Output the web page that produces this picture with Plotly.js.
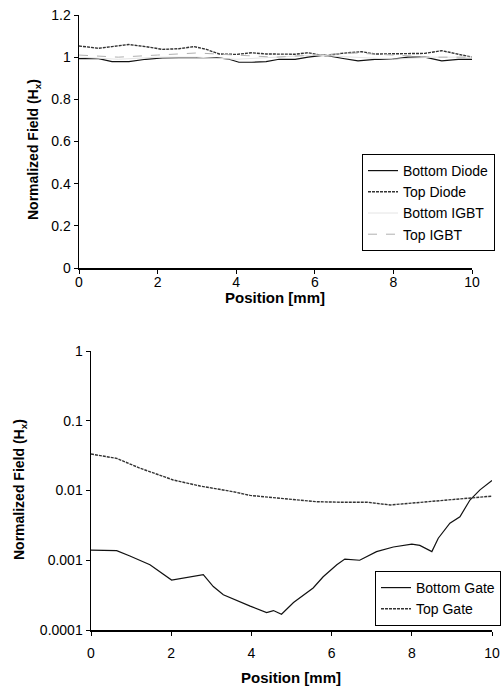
<!DOCTYPE html>
<html>
<head>
<meta charset="utf-8">
<script src="https://cdn.plot.ly/plotly-3.0.1.min.js"></script>
<style>html,body{margin:0;padding:0;background:#fff;}#chart{width:501px;height:688px;}</style>
</head>
<body>
<div id="chart"></div>
<script>
// ---- Top panel data (linear scale) ----
const posDiodeBottom = [0, 0.5, 0.84, 1.27, 1.7, 2.12, 2.54, 2.7, 3.2, 3.5, 3.82, 4.07, 4.4, 4.76, 5.09, 5.5, 5.83, 6.25, 6.68, 7.1, 7.53, 7.95, 8.37, 8.8, 9.23, 9.65, 10];
const bottomDiode   = [0.993, 0.993, 0.979, 0.979, 0.99, 0.996, 0.998, 0.998, 0.998, 0.998, 0.99, 0.976, 0.976, 0.979, 0.99, 0.99, 1.0, 1.01, 0.995, 0.982, 0.99, 0.99, 1.0, 1.0, 0.982, 0.99, 0.99];
const posDiodeTop   = [0, 0.25, 0.5, 0.84, 1.27, 1.7, 2.12, 2.54, 2.93, 3.24, 3.57, 4.0, 4.4, 4.76, 5.09, 5.5, 5.83, 6.25, 6.68, 7.19, 7.53, 7.95, 8.37, 8.8, 9.23, 9.57, 10];
const topDiode      = [1.053, 1.047, 1.042, 1.05, 1.06, 1.05, 1.037, 1.04, 1.05, 1.037, 1.015, 1.013, 1.021, 1.015, 1.015, 1.014, 1.021, 1.006, 1.018, 1.026, 1.015, 1.015, 1.015, 1.018, 1.031, 1.018, 1.0];
const posIGBT       = [0, 1, 2, 3, 4, 5, 6, 7, 8, 9, 10];
const bottomIGBT    = [1.0, 0.99, 1.0, 1.0, 0.99, 1.0, 1.01, 1.0, 0.99, 1.0, 1.0];
const topIGBT       = [1.01, 1.0, 1.01, 1.02, 1.01, 1.0, 1.01, 1.02, 1.01, 1.0, 1.0];

// ---- Bottom panel data (log scale) ----
const posGateBottom = [0, 0.64, 0.97, 1.47, 2.01, 2.38, 2.8, 3.05, 3.3, 3.97, 4.38, 4.55, 4.75, 5.05, 5.54, 5.79, 6.13, 6.33, 6.7, 7.12, 7.54, 8.0, 8.2, 8.5, 8.66, 8.95, 9.2, 9.45, 9.7, 10];
const bottomGate    = [0.0014, 0.00137, 0.00115, 0.00086, 0.00052, 0.00057, 0.00062, 0.00042, 0.00032, 0.00022, 0.000178, 0.00019, 0.000168, 0.000248, 0.0004, 0.00058, 0.00086, 0.00104, 0.001, 0.00133, 0.00155, 0.0017, 0.00163, 0.00133, 0.00207, 0.0034, 0.0042, 0.0073, 0.0102, 0.0139];
const posGateTop    = [0, 0.64, 1.22, 2.05, 2.72, 3.55, 3.97, 4.8, 5.63, 6.21, 6.88, 7.46, 8.12, 8.53, 9.37, 10];
const topGate       = [0.0333, 0.0289, 0.0209, 0.01415, 0.0116, 0.0096, 0.0085, 0.0077, 0.0069, 0.0068, 0.0068, 0.0062, 0.0067, 0.0071, 0.0077, 0.0083];

// ---- Tick labels ----
const topYTicks = [0, 0.2, 0.4, 0.6, 0.8, 1, 1.2];
const topYText  = ["0", "0.2", "0.4", "0.6", "0.8", "1", "1.2"];
const logTicks  = [0.0001, 0.001, 0.01, 0.1, 1];
const logText   = ["0.0001", "0.001", "0.01", "0.1", "1"];
const xTicks    = [0, 2, 4, 6, 8, 10];

const FONT = "Liberation Sans Narrow, Arial Narrow, Liberation Sans, Arial, sans-serif";
const TFONT = "Liberation Sans, Arial, sans-serif";

const traces = [
  {x: posDiodeBottom, y: bottomDiode, name: "Bottom Diode", mode: "lines", line: {color: "#111", width: 1.2}, xaxis: "x", yaxis: "y", legend: "legend"},
  {x: posDiodeTop, y: topDiode, name: "Top Diode", mode: "lines", line: {color: "#333", width: 1.4, dash: "3px,1px"}, xaxis: "x", yaxis: "y", legend: "legend"},
  {x: posIGBT, y: bottomIGBT, name: "Bottom IGBT", mode: "lines", line: {color: "#e4e4e4", width: 1}, xaxis: "x", yaxis: "y", legend: "legend"},
  {x: posIGBT, y: topIGBT, name: "Top IGBT", mode: "lines", line: {color: "#b0b0b0", width: 1, dash: "dash"}, xaxis: "x", yaxis: "y", legend: "legend"},
  {x: posGateBottom, y: bottomGate, name: "Bottom Gate", mode: "lines", line: {color: "#111", width: 1.2}, xaxis: "x2", yaxis: "y2", legend: "legend2"},
  {x: posGateTop, y: topGate, name: "Top Gate", mode: "lines", line: {color: "#333", width: 1.4, dash: "3px,1px"}, xaxis: "x2", yaxis: "y2", legend: "legend2"}
];

const axisCommon = {
  showgrid: false, zeroline: false, showline: true, linecolor: "#000", linewidth: 1.5,
  ticks: "outside", ticklen: 4, tickcolor: "#000", tickwidth: 1,
  tickfont: {family: FONT, size: 14, color: "#000"}, fixedrange: true
};

const legendCommon = {
  bgcolor: "#fff", bordercolor: "#000", borderwidth: 1,
  font: {family: FONT, size: 14, color: "#000"},
  xanchor: "left", yanchor: "top", itemwidth: 30, tracegroupgap: 0
};

const layout = {
  width: 501, height: 688,
  margin: {l: 0, r: 0, t: 0, b: 0, autoexpand: false},
  paper_bgcolor: "#fff", plot_bgcolor: "#fff",
  font: {family: FONT, color: "#000"},
  xaxis: Object.assign({}, axisCommon, {domain: [79/501, 472/501], range: [0, 10], tickvals: xTicks, anchor: "y", ticklabelstandoff: -3}),
  yaxis: Object.assign({}, axisCommon, {domain: [1 - 268/688, 1 - 15/688], range: [0, 1.2], tickvals: topYTicks, ticktext: topYText, anchor: "x"}),
  xaxis2: Object.assign({}, axisCommon, {domain: [91/501, 492/501], range: [0, 10], tickvals: xTicks, anchor: "y2", ticklabelstandoff: 6}),
  yaxis2: Object.assign({}, axisCommon, {domain: [1 - 630/688, 1 - 351/688], type: "log", range: [-4, 0], tickvals: logTicks, ticktext: logText, anchor: "x2"}),
  legend: Object.assign({}, legendCommon, {x: 362/501, y: 1 - 154/688}),
  legend2: Object.assign({}, legendCommon, {x: 375/501, y: 1 - 571/688}),
  showlegend: true,
  annotations: [
    {text: "Position [mm]", xref: "paper", yref: "paper", x: 275/501, y: 1 - 297/688, showarrow: false, font: {family: TFONT, size: 15, color: "#000", weight: "bold"}, xanchor: "center", yanchor: "middle"},
    {text: "Position [mm]", xref: "paper", yref: "paper", x: 291/501, y: 1 - 677/688, showarrow: false, font: {family: TFONT, size: 15, color: "#000", weight: "bold"}, xanchor: "center", yanchor: "middle"},
    {text: "Normalized Field (H<sub>x</sub>)", xref: "paper", yref: "paper", x: 34/501, y: 1 - 150/688, textangle: -90, showarrow: false, font: {family: TFONT, size: 14, color: "#000", weight: "bold"}, xanchor: "center", yanchor: "middle"},
    {text: "Normalized Field (H<sub>x</sub>)", xref: "paper", yref: "paper", x: 20/501, y: 1 - 490/688, textangle: -90, showarrow: false, font: {family: TFONT, size: 14, color: "#000", weight: "bold"}, xanchor: "center", yanchor: "middle"}
  ]
};

Plotly.newPlot("chart", traces, layout, {staticPlot: true, displayModeBar: false});
</script>
</body>
</html>
